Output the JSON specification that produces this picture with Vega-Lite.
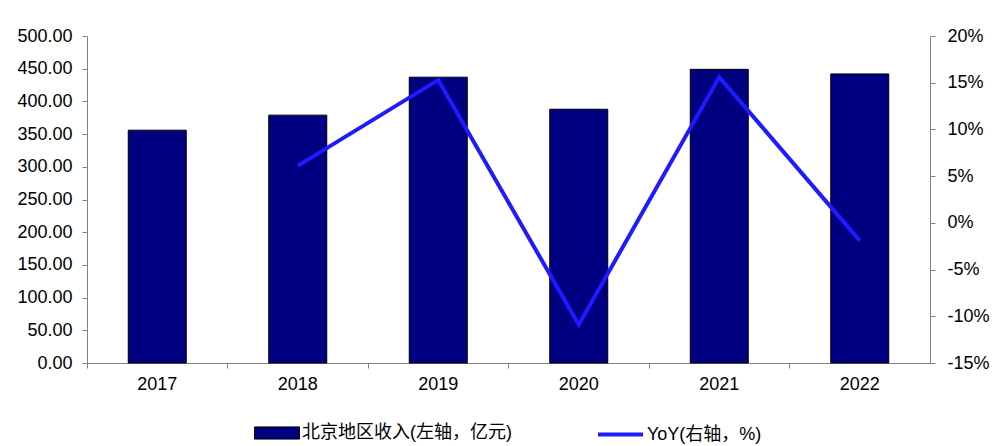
{
  "$schema": "https://vega.github.io/schema/vega-lite/v6.json",
  "width": 843,
  "height": 327,
  "autosize": "none",
  "padding": {"left": 87, "top": 36, "right": 76, "bottom": 83},
  "background": "white",
  "config": {
    "font": "Liberation Sans",
    "view": {"stroke": null},
    "axis": {"grid": false, "domainColor": "#808080", "tickColor": "#808080", "labelColor": "black", "labelFontSize": 18, "labelFont": "Liberation Sans", "titleFontSize": 16, "tickSize": 5}
  },
  "data": {
    "values": [
      {"year": "2017", "rev": 356, "yoy": null, "s1": "北京地区收入(左轴，亿元)", "s2": "YoY(右轴，%)"},
      {"year": "2018", "rev": 379, "yoy": 6.1, "s1": "北京地区收入(左轴，亿元)", "s2": "YoY(右轴，%)"},
      {"year": "2019", "rev": 437, "yoy": 15.3, "s1": "北京地区收入(左轴，亿元)", "s2": "YoY(右轴，%)"},
      {"year": "2020", "rev": 388, "yoy": -10.9, "s1": "北京地区收入(左轴，亿元)", "s2": "YoY(右轴，%)"},
      {"year": "2021", "rev": 449, "yoy": 15.6, "s1": "北京地区收入(左轴，亿元)", "s2": "YoY(右轴，%)"},
      {"year": "2022", "rev": 442, "yoy": -1.9, "s1": "北京地区收入(左轴，亿元)", "s2": "YoY(右轴，%)"}
    ]
  },
  "encoding": {
    "x": {
      "field": "year", "type": "nominal", "sort": null,
      "scale": {"paddingInner": 0, "paddingOuter": 0},
      "axis": {"title": null, "labelAngle": 0, "bandPosition": 0, "labelPadding": 7, "domainColor": "#808080"}
    }
  },
  "layer": [
    {
      "mark": {"type": "bar", "size": 58, "stroke": "black", "strokeWidth": 1},
      "encoding": {
        "y": {
          "field": "rev", "type": "quantitative",
          "scale": {"domain": [0, 500], "nice": false},
          "axis": {"title": null, "orient": "left", "values": [0, 50, 100, 150, 200, 250, 300, 350, 400, 450, 500], "format": ".2f", "labelPadding": 10}
        },
        "fill": {
          "field": "s1", "type": "nominal",
          "scale": {"range": ["#000080"]},
          "legend": {"title": null, "orient": "none", "legendX": 167, "legendY": 374, "symbolType": "M-1,-0.27L1,-0.27L1,0.27L-1,0.27Z", "symbolSize": 2025, "symbolStrokeColor": "black", "symbolStrokeWidth": 1, "labelFontSize": 18, "labelFont": "Liberation Sans, Noto Sans CJK SC", "labelColor": "black", "labelOffset": 2, "labelLimit": 400}
        }
      }
    },
    {
      "mark": {"type": "line", "strokeWidth": 4},
      "encoding": {
        "y": {
          "field": "yoy", "type": "quantitative",
          "scale": {"domain": [-15, 20], "nice": false},
          "axis": {"title": null, "orient": "right", "values": [-15, -10, -5, 0, 5, 10, 15, 20], "labelExpr": "datum.value + '%'", "labelPadding": 12}
        },
        "stroke": {
          "field": "s2", "type": "nominal",
          "scale": {"range": ["#1f1aff"]},
          "legend": {"title": null, "orient": "none", "legendX": 509, "legendY": 374, "symbolType": "stroke", "symbolSize": 2025, "symbolStrokeWidth": 4, "labelFontSize": 18, "labelFont": "Liberation Sans, Noto Sans CJK SC", "labelColor": "black", "labelOffset": 2, "labelLimit": 400}
        }
      }
    }
  ],
  "resolve": {"scale": {"y": "independent", "fill": "independent", "stroke": "independent"}}
}
